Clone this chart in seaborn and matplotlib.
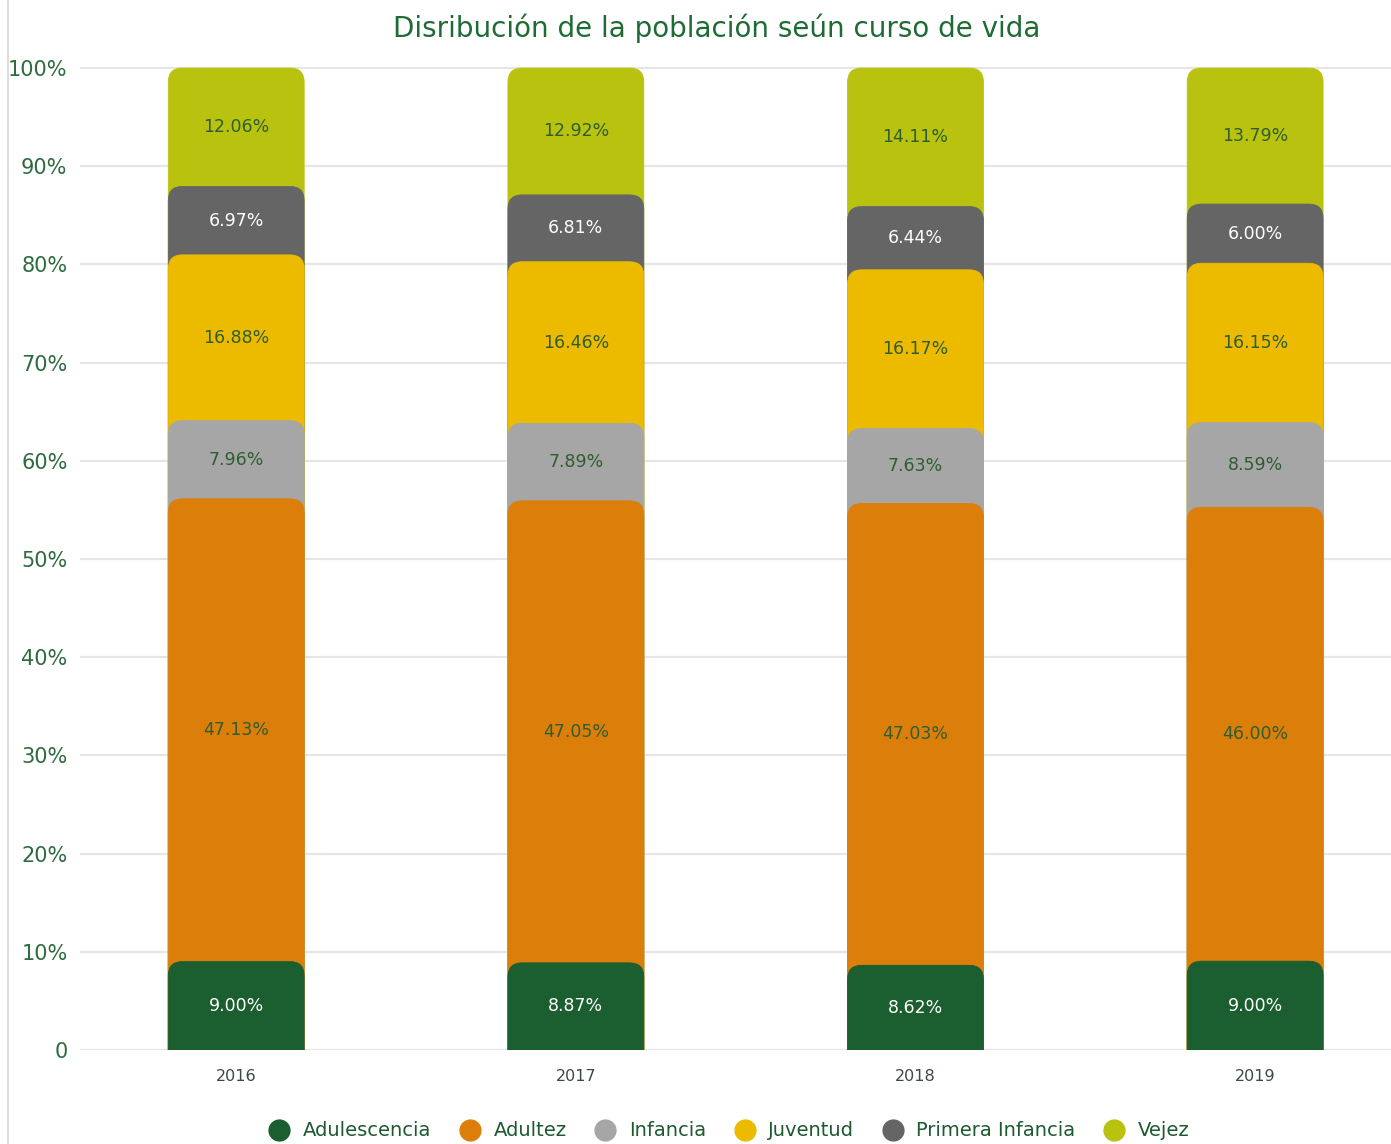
import matplotlib.pyplot as plt
import seaborn as sns
import pandas as pd
from matplotlib.patches import FancyBboxPatch
from matplotlib.lines import Line2D

years = ["2016", "2017", "2018", "2019"]
groups = ["Adulescencia", "Adultez", "Infancia", "Juventud", "Primera Infancia", "Vejez"]
adulescencia = [9.00, 8.87, 8.62, 9.00]
adultez = [47.13, 47.05, 47.03, 46.00]
infancia = [7.96, 7.89, 7.63, 8.59]
juventud = [16.88, 16.46, 16.17, 16.15]
primera_infancia = [6.97, 6.81, 6.44, 6.00]
vejez = [12.06, 12.92, 14.11, 13.79]

colors = ["#1b5e2f", "#dc7f0a", "#a6a6a6", "#ecbb00", "#656565", "#b9c20f"]
label_colors = ["white", "#2f5d2f", "#2f5d2f", "#2f5d2f", "white", "#2f5d2f"]

values = [adulescencia, adultez, infancia, juventud, primera_infancia, vejez]

rows = []
for g, vals in zip(groups, values):
    for y, v in zip(years, vals):
        rows.append({"year": y, "group": g, "value": v})
df = pd.DataFrame(rows)
# 100% stacked: scale each year to its total
df["share"] = df["value"] / df.groupby("year")["value"].transform("sum") * 100
df["top"] = df.groupby("year")["share"].cumsum()
df["bottom"] = df["top"] - df["share"]

sns.set_theme(style="white")
plt.rcParams["font.family"] = ["DejaVu Sans"]

fig = plt.figure(figsize=(13.91, 11.44), dpi=100)
ax = fig.add_axes([0.0575, 0.0822, 0.9425, 0.8669])

# draw cumulative bars from the top group down so each one overlaps the previous
for g, c in reversed(list(zip(groups, colors))):
    sub = df[df["group"] == g]
    sns.barplot(data=sub, x="year", y="top", color=c, width=0.4,
                saturation=1, ax=ax, order=years)

ax.set_xlim(-0.46, 3.40)
ax.set_ylim(0, 101)

# swap rectangles for rounded boxes
bb = ax.get_window_extent()
px_x = bb.width / (3.40 + 0.46)
px_y = bb.height / 101
aspect = px_x / px_y
r = 14 / px_x
for p in list(ax.patches):
    x, y0 = p.get_x(), p.get_y()
    w, h = p.get_width(), p.get_height()
    fc = p.get_facecolor()
    p.remove()
    ax.add_patch(FancyBboxPatch((x, y0 - 5), w, h + 5,
                                boxstyle=f"round,pad=0,rounding_size={r}",
                                mutation_aspect=aspect, fc=fc, ec=fc, lw=0.6,
                                zorder=2))

for i, g in enumerate(groups):
    sub = df[df["group"] == g]
    for j, (_, row) in enumerate(sub.iterrows()):
        ax.text(j, (row["bottom"] + row["top"]) / 2, f"{row['value']:.2f}%",
                ha="center", va="center", fontsize=12.5, color=label_colors[i], zorder=3)

ax.set_yticks(range(0, 101, 10))
ax.set_yticklabels(["0"] + [f"{v}%" for v in range(10, 101, 10)],
                   fontsize=15, color="#2e6b3e")
ax.tick_params(axis="y", length=0, pad=9)
ax.tick_params(axis="x", length=0, pad=14, labelsize=11.5, labelcolor="#3b4a40")
ax.yaxis.grid(True, color="#e6e6e6", lw=1.6)
ax.set_axisbelow(True)
ax.set_xlabel("")
ax.set_ylabel("")
sns.despine(ax=ax, left=True, bottom=True)

fig.text(0.515, 0.9755, "Disribución de la población seún curso de vida",
         ha="center", va="center", fontsize=20, color="#1e6b35")

handles = [Line2D([], [], marker="o", ls="", markersize=15, color=c) for c in colors]
fig.legend(handles, groups, loc="center", bbox_to_anchor=(0.521, 0.0114), ncol=6,
           frameon=False, fontsize=14, labelcolor="#1d5a30", handletextpad=0.2,
           columnspacing=1.0)

fig.add_artist(Line2D([0.006, 0.006], [0, 1], color="#dddddd", lw=1.5,
                      transform=fig.transFigure))

fig.savefig("out.png", dpi=100)
